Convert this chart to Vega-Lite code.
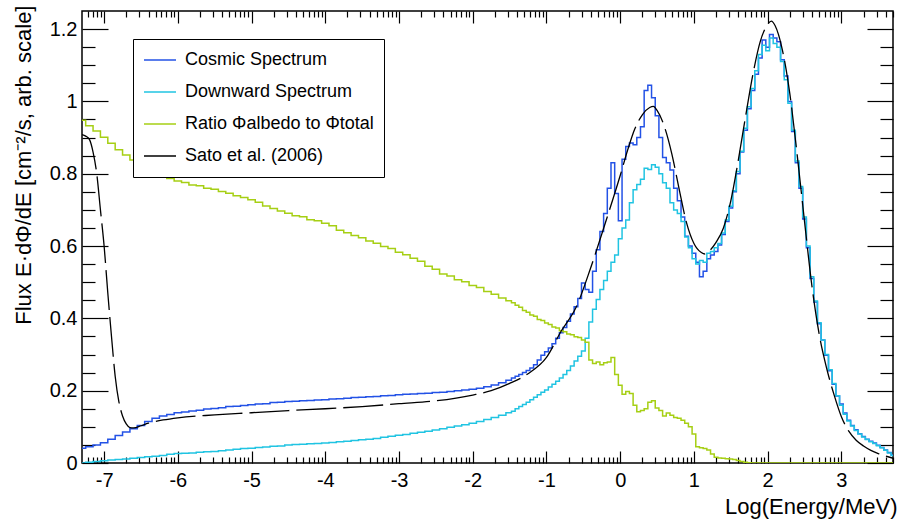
{
  "$schema": "https://vega.github.io/schema/vega-lite/v6.json",
  "width": 811,
  "height": 452,
  "autosize": {"type": "none"},
  "padding": {"left": 82, "top": 11, "right": 7, "bottom": 56},
  "background": "white",
  "config": {
    "view": {"stroke": "black", "strokeWidth": 1.5},
    "font": "Liberation Sans",
    "axis": {"domain": false, "grid": false, "ticks": true, "tickColor": "black", "tickWidth": 1.2, "labelColor": "black", "titleColor": "black", "labelFont": "Liberation Sans", "titleFont": "Liberation Sans", "labelFontSize": 20, "titleFontSize": 22, "titleFontWeight": "normal", "labelOverlap": false, "labelFlush": false},
    "legend": {"orient": "none", "legendX": 51, "legendY": 28, "title": null, "symbolType": "stroke", "symbolSize": 1024, "symbolStrokeWidth": 1.5, "labelFontSize": 18, "labelFont": "Liberation Sans", "labelColor": "black", "labelOffset": 8, "labelLimit": 400, "strokeColor": "black", "fillColor": "white", "padding": 10, "rowPadding": 10, "clipHeight": 22}
  },
  "datasets": {
    "hist": [
      {"x": -7.3, "cosmic": 0.041, "down": 0.000, "ratio": 0.948},
      {"x": -7.2, "cosmic": 0.045, "down": 0.002, "ratio": 0.933},
      {"x": -7.1, "cosmic": 0.050, "down": 0.004, "ratio": 0.918},
      {"x": -7.0, "cosmic": 0.056, "down": 0.006, "ratio": 0.901},
      {"x": -6.9, "cosmic": 0.066, "down": 0.008, "ratio": 0.884},
      {"x": -6.8, "cosmic": 0.076, "down": 0.010, "ratio": 0.866},
      {"x": -6.7, "cosmic": 0.086, "down": 0.011, "ratio": 0.852},
      {"x": -6.6, "cosmic": 0.095, "down": 0.013, "ratio": 0.838},
      {"x": -6.5, "cosmic": 0.104, "down": 0.015, "ratio": 0.829},
      {"x": -6.4, "cosmic": 0.115, "down": 0.017, "ratio": 0.815},
      {"x": -6.3, "cosmic": 0.124, "down": 0.019, "ratio": 0.806},
      {"x": -6.2, "cosmic": 0.130, "down": 0.021, "ratio": 0.795},
      {"x": -6.1, "cosmic": 0.134, "down": 0.024, "ratio": 0.787},
      {"x": -6.0, "cosmic": 0.139, "down": 0.026, "ratio": 0.780},
      {"x": -5.9, "cosmic": 0.141, "down": 0.027, "ratio": 0.776},
      {"x": -5.8, "cosmic": 0.144, "down": 0.028, "ratio": 0.769},
      {"x": -5.7, "cosmic": 0.146, "down": 0.030, "ratio": 0.767},
      {"x": -5.6, "cosmic": 0.149, "down": 0.031, "ratio": 0.760},
      {"x": -5.5, "cosmic": 0.151, "down": 0.032, "ratio": 0.757},
      {"x": -5.4, "cosmic": 0.153, "down": 0.034, "ratio": 0.751},
      {"x": -5.3, "cosmic": 0.156, "down": 0.036, "ratio": 0.746},
      {"x": -5.2, "cosmic": 0.157, "down": 0.038, "ratio": 0.739},
      {"x": -5.1, "cosmic": 0.159, "down": 0.040, "ratio": 0.734},
      {"x": -5.0, "cosmic": 0.161, "down": 0.041, "ratio": 0.728},
      {"x": -4.9, "cosmic": 0.163, "down": 0.043, "ratio": 0.721},
      {"x": -4.8, "cosmic": 0.164, "down": 0.044, "ratio": 0.711},
      {"x": -4.7, "cosmic": 0.167, "down": 0.046, "ratio": 0.704},
      {"x": -4.6, "cosmic": 0.168, "down": 0.047, "ratio": 0.697},
      {"x": -4.5, "cosmic": 0.170, "down": 0.050, "ratio": 0.691},
      {"x": -4.4, "cosmic": 0.171, "down": 0.051, "ratio": 0.684},
      {"x": -4.3, "cosmic": 0.172, "down": 0.052, "ratio": 0.681},
      {"x": -4.2, "cosmic": 0.173, "down": 0.053, "ratio": 0.673},
      {"x": -4.1, "cosmic": 0.174, "down": 0.054, "ratio": 0.670},
      {"x": -4.0, "cosmic": 0.175, "down": 0.055, "ratio": 0.663},
      {"x": -3.9, "cosmic": 0.177, "down": 0.057, "ratio": 0.656},
      {"x": -3.8, "cosmic": 0.178, "down": 0.059, "ratio": 0.644},
      {"x": -3.7, "cosmic": 0.179, "down": 0.060, "ratio": 0.637},
      {"x": -3.6, "cosmic": 0.181, "down": 0.062, "ratio": 0.629},
      {"x": -3.5, "cosmic": 0.182, "down": 0.064, "ratio": 0.623},
      {"x": -3.4, "cosmic": 0.183, "down": 0.066, "ratio": 0.614},
      {"x": -3.3, "cosmic": 0.184, "down": 0.068, "ratio": 0.608},
      {"x": -3.2, "cosmic": 0.186, "down": 0.071, "ratio": 0.599},
      {"x": -3.1, "cosmic": 0.187, "down": 0.074, "ratio": 0.593},
      {"x": -3.0, "cosmic": 0.189, "down": 0.077, "ratio": 0.583},
      {"x": -2.9, "cosmic": 0.190, "down": 0.079, "ratio": 0.576},
      {"x": -2.8, "cosmic": 0.191, "down": 0.082, "ratio": 0.566},
      {"x": -2.7, "cosmic": 0.192, "down": 0.085, "ratio": 0.558},
      {"x": -2.6, "cosmic": 0.193, "down": 0.088, "ratio": 0.544},
      {"x": -2.5, "cosmic": 0.195, "down": 0.091, "ratio": 0.536},
      {"x": -2.4, "cosmic": 0.196, "down": 0.095, "ratio": 0.523},
      {"x": -2.3, "cosmic": 0.198, "down": 0.099, "ratio": 0.517},
      {"x": -2.2, "cosmic": 0.200, "down": 0.102, "ratio": 0.507},
      {"x": -2.1, "cosmic": 0.202, "down": 0.106, "ratio": 0.501},
      {"x": -2.0, "cosmic": 0.204, "down": 0.110, "ratio": 0.491},
      {"x": -1.9, "cosmic": 0.207, "down": 0.115, "ratio": 0.485},
      {"x": -1.8, "cosmic": 0.211, "down": 0.120, "ratio": 0.474},
      {"x": -1.7, "cosmic": 0.216, "down": 0.126, "ratio": 0.467},
      {"x": -1.6, "cosmic": 0.222, "down": 0.132, "ratio": 0.456},
      {"x": -1.5, "cosmic": 0.229, "down": 0.139, "ratio": 0.449},
      {"x": -1.45, "cosmic": 0.235, "down": 0.143, "ratio": 0.443},
      {"x": -1.4, "cosmic": 0.240, "down": 0.150, "ratio": 0.436},
      {"x": -1.35, "cosmic": 0.245, "down": 0.156, "ratio": 0.431},
      {"x": -1.3, "cosmic": 0.250, "down": 0.162, "ratio": 0.422},
      {"x": -1.25, "cosmic": 0.256, "down": 0.168, "ratio": 0.417},
      {"x": -1.2, "cosmic": 0.263, "down": 0.175, "ratio": 0.409},
      {"x": -1.15, "cosmic": 0.272, "down": 0.182, "ratio": 0.406},
      {"x": -1.1, "cosmic": 0.285, "down": 0.189, "ratio": 0.397},
      {"x": -1.05, "cosmic": 0.298, "down": 0.196, "ratio": 0.394},
      {"x": -1.0, "cosmic": 0.308, "down": 0.202, "ratio": 0.387},
      {"x": -0.95, "cosmic": 0.318, "down": 0.210, "ratio": 0.383},
      {"x": -0.9, "cosmic": 0.330, "down": 0.218, "ratio": 0.376},
      {"x": -0.85, "cosmic": 0.345, "down": 0.226, "ratio": 0.373},
      {"x": -0.8, "cosmic": 0.360, "down": 0.235, "ratio": 0.366},
      {"x": -0.75, "cosmic": 0.375, "down": 0.245, "ratio": 0.363},
      {"x": -0.7, "cosmic": 0.392, "down": 0.256, "ratio": 0.357},
      {"x": -0.65, "cosmic": 0.412, "down": 0.268, "ratio": 0.355},
      {"x": -0.6, "cosmic": 0.432, "down": 0.282, "ratio": 0.349},
      {"x": -0.55, "cosmic": 0.455, "down": 0.295, "ratio": 0.347},
      {"x": -0.5, "cosmic": 0.498, "down": 0.310, "ratio": 0.340},
      {"x": -0.45, "cosmic": 0.480, "down": 0.345, "ratio": 0.334},
      {"x": -0.4, "cosmic": 0.472, "down": 0.390, "ratio": 0.285},
      {"x": -0.35, "cosmic": 0.530, "down": 0.425, "ratio": 0.275},
      {"x": -0.3, "cosmic": 0.590, "down": 0.452, "ratio": 0.279},
      {"x": -0.25, "cosmic": 0.640, "down": 0.480, "ratio": 0.272},
      {"x": -0.2, "cosmic": 0.690, "down": 0.505, "ratio": 0.277},
      {"x": -0.15, "cosmic": 0.760, "down": 0.530, "ratio": 0.279},
      {"x": -0.1, "cosmic": 0.830, "down": 0.555, "ratio": 0.292},
      {"x": -0.05, "cosmic": 0.745, "down": 0.575, "ratio": 0.245},
      {"x": 0.0, "cosmic": 0.670, "down": 0.620, "ratio": 0.215},
      {"x": 0.05, "cosmic": 0.840, "down": 0.650, "ratio": 0.190},
      {"x": 0.1, "cosmic": 0.875, "down": 0.672, "ratio": 0.198},
      {"x": 0.15, "cosmic": 0.885, "down": 0.720, "ratio": 0.192},
      {"x": 0.2, "cosmic": 0.880, "down": 0.756, "ratio": 0.160},
      {"x": 0.25, "cosmic": 0.900, "down": 0.770, "ratio": 0.142},
      {"x": 0.3, "cosmic": 0.930, "down": 0.785, "ratio": 0.145},
      {"x": 0.35, "cosmic": 1.030, "down": 0.815, "ratio": 0.150},
      {"x": 0.4, "cosmic": 1.045, "down": 0.812, "ratio": 0.168},
      {"x": 0.45, "cosmic": 1.010, "down": 0.825, "ratio": 0.172},
      {"x": 0.5, "cosmic": 0.960, "down": 0.818, "ratio": 0.152},
      {"x": 0.55, "cosmic": 0.900, "down": 0.800, "ratio": 0.145},
      {"x": 0.6, "cosmic": 0.845, "down": 0.775, "ratio": 0.130},
      {"x": 0.65, "cosmic": 0.830, "down": 0.760, "ratio": 0.138},
      {"x": 0.7, "cosmic": 0.810, "down": 0.720, "ratio": 0.132},
      {"x": 0.75, "cosmic": 0.760, "down": 0.700, "ratio": 0.126},
      {"x": 0.8, "cosmic": 0.725, "down": 0.690, "ratio": 0.124},
      {"x": 0.85, "cosmic": 0.680, "down": 0.668, "ratio": 0.118},
      {"x": 0.9, "cosmic": 0.627, "down": 0.625, "ratio": 0.110},
      {"x": 0.95, "cosmic": 0.600, "down": 0.595, "ratio": 0.100},
      {"x": 1.0, "cosmic": 0.580, "down": 0.565, "ratio": 0.080},
      {"x": 1.05, "cosmic": 0.555, "down": 0.550, "ratio": 0.045},
      {"x": 1.1, "cosmic": 0.515, "down": 0.560, "ratio": 0.042},
      {"x": 1.15, "cosmic": 0.530, "down": 0.555, "ratio": 0.040},
      {"x": 1.2, "cosmic": 0.565, "down": 0.580, "ratio": 0.036},
      {"x": 1.25, "cosmic": 0.575, "down": 0.585, "ratio": 0.025},
      {"x": 1.3, "cosmic": 0.585, "down": 0.595, "ratio": 0.016},
      {"x": 1.35, "cosmic": 0.603, "down": 0.607, "ratio": 0.014},
      {"x": 1.4, "cosmic": 0.632, "down": 0.636, "ratio": 0.013},
      {"x": 1.45, "cosmic": 0.668, "down": 0.672, "ratio": 0.012},
      {"x": 1.5, "cosmic": 0.705, "down": 0.710, "ratio": 0.011},
      {"x": 1.55, "cosmic": 0.750, "down": 0.753, "ratio": 0.010},
      {"x": 1.6, "cosmic": 0.800, "down": 0.806, "ratio": 0.007},
      {"x": 1.65, "cosmic": 0.860, "down": 0.862, "ratio": 0.004},
      {"x": 1.7, "cosmic": 0.920, "down": 0.926, "ratio": 0.002},
      {"x": 1.75, "cosmic": 0.980, "down": 0.985, "ratio": 0.001},
      {"x": 1.8, "cosmic": 1.030, "down": 1.036, "ratio": 0},
      {"x": 1.85, "cosmic": 1.075, "down": 1.085, "ratio": 0},
      {"x": 1.9, "cosmic": 1.120, "down": 1.130, "ratio": 0},
      {"x": 1.95, "cosmic": 1.170, "down": 1.155, "ratio": 0},
      {"x": 2.0, "cosmic": 1.150, "down": 1.140, "ratio": 0},
      {"x": 2.05, "cosmic": 1.185, "down": 1.175, "ratio": 0},
      {"x": 2.1, "cosmic": 1.175, "down": 1.160, "ratio": 0},
      {"x": 2.15, "cosmic": 1.165, "down": 1.150, "ratio": 0},
      {"x": 2.2, "cosmic": 1.115, "down": 1.110, "ratio": 0},
      {"x": 2.25, "cosmic": 1.070, "down": 1.060, "ratio": 0},
      {"x": 2.3, "cosmic": 1.000, "down": 0.995, "ratio": 0},
      {"x": 2.35, "cosmic": 0.917, "down": 0.920, "ratio": 0},
      {"x": 2.4, "cosmic": 0.830, "down": 0.835, "ratio": 0},
      {"x": 2.45, "cosmic": 0.760, "down": 0.765, "ratio": 0},
      {"x": 2.5, "cosmic": 0.675, "down": 0.680, "ratio": 0},
      {"x": 2.55, "cosmic": 0.595, "down": 0.600, "ratio": 0},
      {"x": 2.6, "cosmic": 0.510, "down": 0.515, "ratio": 0},
      {"x": 2.65, "cosmic": 0.445, "down": 0.448, "ratio": 0},
      {"x": 2.7, "cosmic": 0.385, "down": 0.388, "ratio": 0},
      {"x": 2.75, "cosmic": 0.340, "down": 0.340, "ratio": 0},
      {"x": 2.8, "cosmic": 0.298, "down": 0.300, "ratio": 0},
      {"x": 2.85, "cosmic": 0.255, "down": 0.258, "ratio": 0},
      {"x": 2.9, "cosmic": 0.218, "down": 0.220, "ratio": 0},
      {"x": 2.95, "cosmic": 0.185, "down": 0.186, "ratio": 0},
      {"x": 3.0, "cosmic": 0.163, "down": 0.160, "ratio": 0},
      {"x": 3.05, "cosmic": 0.138, "down": 0.135, "ratio": 0},
      {"x": 3.1, "cosmic": 0.118, "down": 0.116, "ratio": 0},
      {"x": 3.15, "cosmic": 0.104, "down": 0.102, "ratio": 0},
      {"x": 3.2, "cosmic": 0.092, "down": 0.090, "ratio": 0},
      {"x": 3.25, "cosmic": 0.081, "down": 0.080, "ratio": 0},
      {"x": 3.3, "cosmic": 0.073, "down": 0.072, "ratio": 0},
      {"x": 3.35, "cosmic": 0.066, "down": 0.065, "ratio": 0},
      {"x": 3.4, "cosmic": 0.060, "down": 0.059, "ratio": 0},
      {"x": 3.45, "cosmic": 0.055, "down": 0.054, "ratio": 0},
      {"x": 3.5, "cosmic": 0.049, "down": 0.048, "ratio": 0},
      {"x": 3.55, "cosmic": 0.043, "down": 0.042, "ratio": 0},
      {"x": 3.6, "cosmic": 0.036, "down": 0.035, "ratio": 0},
      {"x": 3.65, "cosmic": 0.029, "down": 0.028, "ratio": 0},
      {"x": 3.7, "cosmic": 0.022, "down": 0.021, "ratio": 0}
    ],
    "sato": [
      {"x": -7.3, "y": 0.908}, {"x": -7.25, "y": 0.904}, {"x": -7.2, "y": 0.895}, {"x": -7.15, "y": 0.86},
      {"x": -7.1, "y": 0.80}, {"x": -7.05, "y": 0.70}, {"x": -7.0, "y": 0.60}, {"x": -6.95, "y": 0.47},
      {"x": -6.9, "y": 0.35}, {"x": -6.85, "y": 0.24}, {"x": -6.8, "y": 0.17}, {"x": -6.75, "y": 0.13},
      {"x": -6.7, "y": 0.108}, {"x": -6.65, "y": 0.098}, {"x": -6.6, "y": 0.097}, {"x": -6.5, "y": 0.103},
      {"x": -6.4, "y": 0.110}, {"x": -6.3, "y": 0.115}, {"x": -6.2, "y": 0.119}, {"x": -6.0, "y": 0.125},
      {"x": -5.5, "y": 0.133}, {"x": -5.0, "y": 0.139}, {"x": -4.5, "y": 0.145}, {"x": -4.0, "y": 0.150},
      {"x": -3.5, "y": 0.156}, {"x": -3.0, "y": 0.164}, {"x": -2.5, "y": 0.172}, {"x": -2.0, "y": 0.188},
      {"x": -1.75, "y": 0.200}, {"x": -1.5, "y": 0.220}, {"x": -1.25, "y": 0.247}, {"x": -1.0, "y": 0.292},
      {"x": -0.8, "y": 0.365}, {"x": -0.6, "y": 0.43}, {"x": -0.4, "y": 0.54}, {"x": -0.2, "y": 0.665},
      {"x": 0.0, "y": 0.795}, {"x": 0.1, "y": 0.865}, {"x": 0.2, "y": 0.925}, {"x": 0.3, "y": 0.963},
      {"x": 0.4, "y": 0.983}, {"x": 0.45, "y": 0.986}, {"x": 0.5, "y": 0.975}, {"x": 0.6, "y": 0.930},
      {"x": 0.7, "y": 0.855}, {"x": 0.8, "y": 0.757}, {"x": 0.9, "y": 0.664}, {"x": 1.0, "y": 0.607},
      {"x": 1.1, "y": 0.582}, {"x": 1.15, "y": 0.578}, {"x": 1.2, "y": 0.585}, {"x": 1.3, "y": 0.610},
      {"x": 1.4, "y": 0.650}, {"x": 1.5, "y": 0.725}, {"x": 1.6, "y": 0.835}, {"x": 1.7, "y": 0.958},
      {"x": 1.8, "y": 1.075}, {"x": 1.9, "y": 1.166}, {"x": 2.0, "y": 1.213}, {"x": 2.05, "y": 1.222},
      {"x": 2.1, "y": 1.210}, {"x": 2.2, "y": 1.142}, {"x": 2.3, "y": 1.022}, {"x": 2.4, "y": 0.853},
      {"x": 2.5, "y": 0.668}, {"x": 2.6, "y": 0.49}, {"x": 2.7, "y": 0.355}, {"x": 2.8, "y": 0.262},
      {"x": 2.9, "y": 0.189}, {"x": 3.0, "y": 0.128}, {"x": 3.1, "y": 0.088}, {"x": 3.2, "y": 0.063},
      {"x": 3.3, "y": 0.047}, {"x": 3.4, "y": 0.035}, {"x": 3.5, "y": 0.026}, {"x": 3.6, "y": 0.019},
      {"x": 3.7, "y": 0.013}
    ]
  },
  "layer": [
    {
      "data": {"name": "hist"},
      "mark": {"type": "line", "interpolate": "step", "strokeWidth": 1.5, "clip": true},
      "encoding": {
        "x": {"field": "x", "type": "quantitative",
          "scale": {"domain": [-7.3, 3.7], "nice": false, "zero": false},
          "axis": {"orient": "bottom",
            "values": [-7, -6, -5, -4, -3, -2, -1, 0, 1, 2, 3],
            "tickSize": -12,
            "labelExpr": "'' + round(datum.value)",
            "labelPadding": 19,
            "title": "Log(Energy/MeV)", "titleAnchor": "end", "titleAlign": "right", "titleX": 815, "titleY": 50, "titleBaseline": "alphabetic"}},
        "y": {"field": "cosmic", "type": "quantitative",
          "scale": {"domain": [0, 1.25], "nice": false, "zero": false},
          "axis": {"orient": "left",
            "values": [0, 0.2, 0.4, 0.6, 0.8, 1, 1.2],
            "tickSize": -26,
            "labelExpr": "format(datum.value, '~g')",
            "labelPadding": 31,
            "title": "Flux E·dΦ/dE [cm⁻²/s, arb. scale]", "titleAnchor": "end", "titleAlign": "right", "titleAngle": -90, "titleX": -52, "titleY": -6, "titleBaseline": "alphabetic"}},
        "color": {"datum": "Cosmic Spectrum", "type": "nominal",
          "scale": {"domain": ["Cosmic Spectrum", "Downward Spectrum", "Ratio Φalbedo to Φtotal", "Sato et al. (2006)"], "range": ["#2352e6", "#20c4e2", "#a6cf14", "#000000"]}}
      }
    },
    {
      "data": {"name": "hist"},
      "mark": {"type": "line", "interpolate": "step", "strokeWidth": 1.5, "clip": true},
      "encoding": {
        "x": {"field": "x", "type": "quantitative", "scale": {"domain": [-7.3, 3.7], "nice": false, "zero": false},
          "axis": {"orient": "bottom", "labels": false, "title": null, "tickSize": -6,
            "values": [-7.22185, -7.1549, -7.09691, -7.04576, -6.69897, -6.52288, -6.39794, -6.30103, -6.22185, -6.1549, -6.09691, -6.04576, -5.69897, -5.52288, -5.39794, -5.30103, -5.22185, -5.1549, -5.09691, -5.04576, -4.69897, -4.52288, -4.39794, -4.30103, -4.22185, -4.1549, -4.09691, -4.04576, -3.69897, -3.52288, -3.39794, -3.30103, -3.22185, -3.1549, -3.09691, -3.04576, -2.69897, -2.52288, -2.39794, -2.30103, -2.22185, -2.1549, -2.09691, -2.04576, -1.69897, -1.52288, -1.39794, -1.30103, -1.22185, -1.1549, -1.09691, -1.04576, -0.69897, -0.52288, -0.39794, -0.30103, -0.22185, -0.1549, -0.09691, -0.04576, 0.30103, 0.47712, 0.60206, 0.69897, 0.77815, 0.8451, 0.90309, 0.95424, 1.30103, 1.47712, 1.60206, 1.69897, 1.77815, 1.8451, 1.90309, 1.95424, 2.30103, 2.47712, 2.60206, 2.69897, 2.77815, 2.8451, 2.90309, 2.95424, 3.30103, 3.47712, 3.60206, 3.69897]}},
        "y": {"field": "down", "type": "quantitative", "scale": {"domain": [0, 1.25], "nice": false, "zero": false},
          "axis": {"orient": "left", "labels": false, "title": null, "tickSize": -13,
            "values": [0.05, 0.1, 0.15, 0.25, 0.3, 0.35, 0.45, 0.5, 0.55, 0.65, 0.7, 0.75, 0.85, 0.9, 0.95, 1.05, 1.1, 1.15]}},
        "color": {"datum": "Downward Spectrum", "type": "nominal"}
      }
    },
    {
      "data": {"name": "hist"},
      "mark": {"type": "line", "interpolate": "step", "strokeWidth": 1.5, "clip": true},
      "encoding": {
        "x": {"field": "x", "type": "quantitative", "scale": {"domain": [-7.3, 3.7], "nice": false, "zero": false}, "axis": null},
        "y": {"field": "ratio", "type": "quantitative", "scale": {"domain": [0, 1.25], "nice": false, "zero": false}, "axis": null},
        "color": {"datum": "Ratio Φalbedo to Φtotal", "type": "nominal"}
      }
    },
    {
      "data": {"name": "sato"},
      "mark": {"type": "line", "interpolate": "monotone", "strokeWidth": 1.3, "strokeDash": [40, 7], "clip": true},
      "encoding": {
        "x": {"field": "x", "type": "quantitative", "scale": {"domain": [-7.3, 3.7], "nice": false, "zero": false},
          "axis": {"orient": "top", "labels": false, "title": null,
            "values": [-7.22185, -7.1549, -7.09691, -7.04576, -7, -6.69897, -6.52288, -6.39794, -6.30103, -6.22185, -6.1549, -6.09691, -6.04576, -6, -5.69897, -5.52288, -5.39794, -5.30103, -5.22185, -5.1549, -5.09691, -5.04576, -5, -4.69897, -4.52288, -4.39794, -4.30103, -4.22185, -4.1549, -4.09691, -4.04576, -4, -3.69897, -3.52288, -3.39794, -3.30103, -3.22185, -3.1549, -3.09691, -3.04576, -3, -2.69897, -2.52288, -2.39794, -2.30103, -2.22185, -2.1549, -2.09691, -2.04576, -2, -1.69897, -1.52288, -1.39794, -1.30103, -1.22185, -1.1549, -1.09691, -1.04576, -1, -0.69897, -0.52288, -0.39794, -0.30103, -0.22185, -0.1549, -0.09691, -0.04576, 0, 0.30103, 0.47712, 0.60206, 0.69897, 0.77815, 0.8451, 0.90309, 0.95424, 1, 1.30103, 1.47712, 1.60206, 1.69897, 1.77815, 1.8451, 1.90309, 1.95424, 2, 2.30103, 2.47712, 2.60206, 2.69897, 2.77815, 2.8451, 2.90309, 2.95424, 3, 3.30103, 3.47712, 3.60206, 3.69897],
            "tickSize": {"condition": {"test": "abs(datum.value - round(datum.value)) < 0.001", "value": -12}, "value": -6}}},
        "y": {"field": "y", "type": "quantitative", "scale": {"domain": [0, 1.25], "nice": false, "zero": false},
          "axis": {"orient": "right", "labels": false, "title": null,
            "values": [0, 0.05, 0.1, 0.15, 0.2, 0.25, 0.3, 0.35, 0.4, 0.45, 0.5, 0.55, 0.6, 0.65, 0.7, 0.75, 0.8, 0.85, 0.9, 0.95, 1, 1.05, 1.1, 1.15, 1.2],
            "tickSize": {"condition": {"test": "abs(datum.value*5 - round(datum.value*5)) < 0.001", "value": -26}, "value": -13}}},
        "color": {"datum": "Sato et al. (2006)", "type": "nominal"}
      }
    }
  ],
  "resolve": {"axis": {"x": "independent", "y": "independent"}}
}
